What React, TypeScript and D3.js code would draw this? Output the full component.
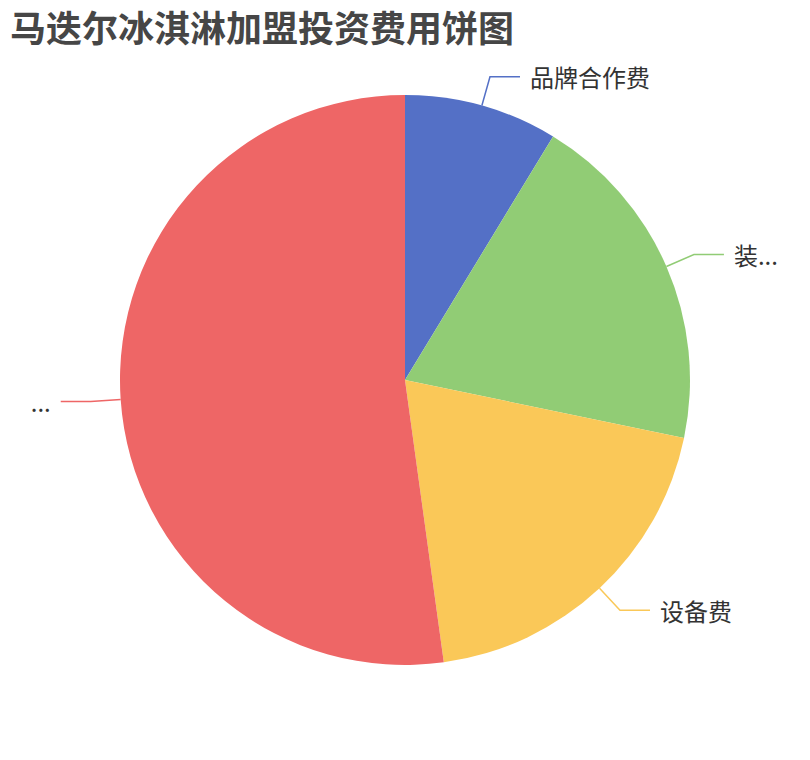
import { useMemo } from "react";
import * as d3 from "d3";

const title = "马迭尔冰淇淋加盟投资费用饼图";
// labels as displayed (truncated ones kept as shown)
const categories = ["品牌合作费", "装...", "设备费", "..."];
const values = [2, 4.5, 4.5, 12];
const colors = ["#5470c6", "#91cc75", "#fac858", "#ee6666"];

const W = 810;
const H = 760;
const cx = 405;
const cy = 380;
const R = 285;
const len1 = 30;
const len2 = 30;

export default function App() {
  const arcs = useMemo(() => {
    const pie = d3
      .pie<number>()
      .sort(null)
      .value((d) => d);
    return pie(values);
  }, []);

  const arc = d3.arc<d3.PieArcDatum<number>>().innerRadius(0).outerRadius(R);

  return (
    <svg
      width={W}
      height={H}
      style={{ position: "absolute", left: 0, top: 0, background: "#fff" }}
      fontFamily="'Noto Sans CJK SC', 'Noto Sans', sans-serif"
    >
      <text
        x={10}
        y={26}
        fontSize={36}
        fontWeight="bold"
        fill="#464646"
        dominantBaseline="central"
      >
        {title}
      </text>
      <g transform={`translate(${cx},${cy})`}>
        {arcs.map((a, i) => (
          <path key={i} d={arc(a) ?? ""} fill={colors[i]} />
        ))}
        {arcs.map((a, i) => {
          const mid = (a.startAngle + a.endAngle) / 2;
          const sx = Math.sin(mid);
          const sy = -Math.cos(mid);
          const p0 = [R * sx, R * sy];
          const p1 = [(R + len1) * sx, (R + len1) * sy];
          const dir = sx >= 0 ? 1 : -1;
          const p2 = [p1[0] + dir * len2, p1[1]];
          const line = d3.line()([p0, p1, p2] as [number, number][]) ?? "";
          return (
            <g key={`l${i}`}>
              <path d={line} fill="none" stroke={colors[i]} strokeWidth={1.5} />
              <text
                x={p2[0] + dir * 10}
                y={p2[1]}
                textAnchor={dir > 0 ? "start" : "end"}
                dominantBaseline="central"
                fontSize={24}
                fill="#333"
              >
                {categories[i]}
              </text>
            </g>
          );
        })}
      </g>
    </svg>
  );
}
